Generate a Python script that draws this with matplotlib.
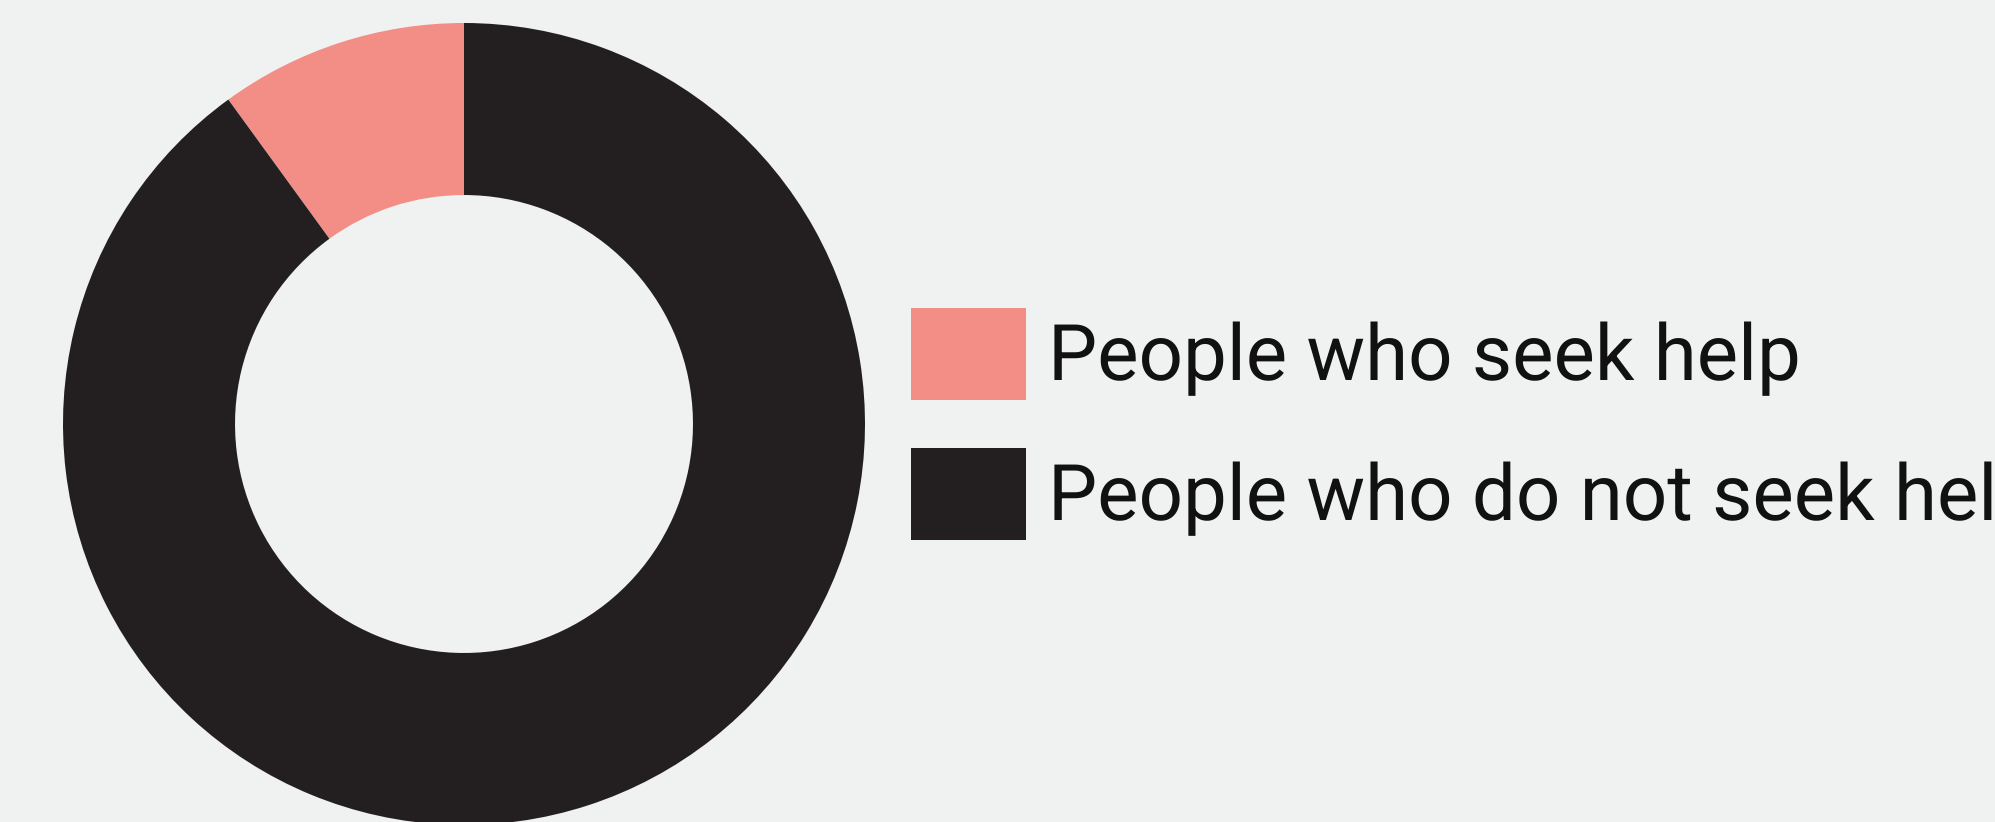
import matplotlib
matplotlib.use("Agg")
import matplotlib.pyplot as plt
from matplotlib.patches import Patch

# data
labels = ["People who seek help", "People who do not seek help"]
values = [10, 90]
colors = ["#f28e86", "#231f20"]

bg = "#f0f1f1"
plt.rcParams['font.family'] = ['Roboto', 'DejaVu Sans']
plt.rcParams['text.hinting'] = 'no_hinting'
plt.rcParams['text.hinting_factor'] = 1

W, H = 1995, 822
fig = plt.figure(figsize=(W / 100, H / 100), dpi=100, facecolor=bg)

# donut centre (464, 424) px from top-left, outer radius 401 px
cx, cy, r = 464, 424, 401
ax = fig.add_axes([(cx - r) / W, (H - cy - r) / H, 2 * r / W, 2 * r / H])
ax.set_facecolor(bg)
ax.pie(values, colors=colors, startangle=90, counterclock=True, radius=1,
       wedgeprops=dict(width=0.429, linewidth=0))
ax.set_xlim(-1, 1)
ax.set_ylim(-1, 1)
ax.axis('off')

handles = [Patch(facecolor=c, edgecolor='none') for c in colors]
leg = fig.legend(handles, labels, loc='upper left',
                 bbox_to_anchor=(911 / W, 1 - 308 / H),
                 frameon=False, prop=dict(size=56),
                 borderpad=0, borderaxespad=0,
                 handlelength=1.48, handleheight=1.45, handletextpad=0.28,
                 labelspacing=0.61)
for t in leg.get_texts():
    t.set_color("#111111")

fig.savefig("out.png", dpi=100, facecolor=bg)
